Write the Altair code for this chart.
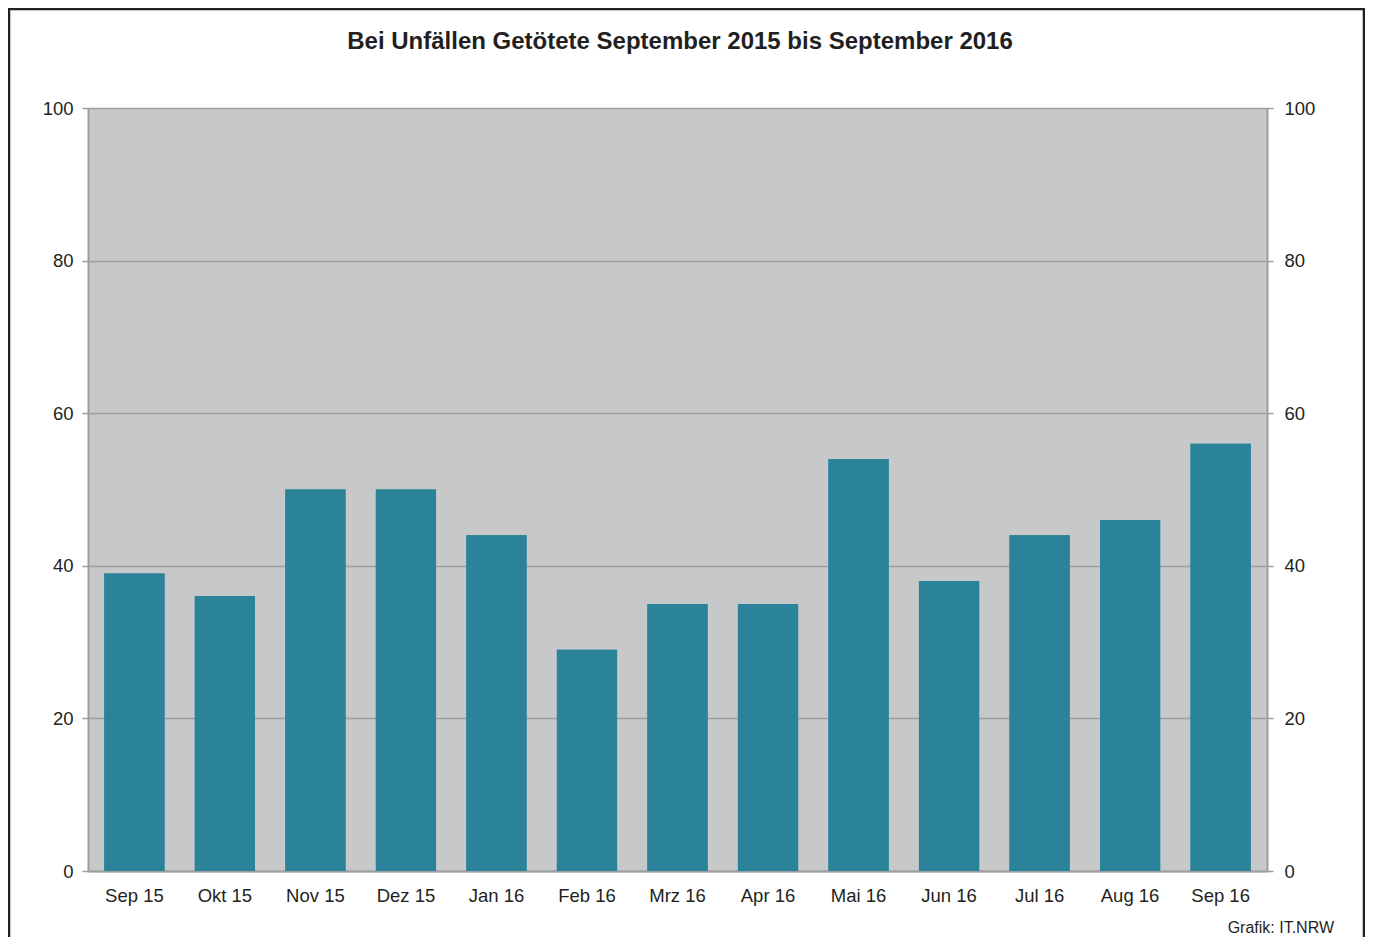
import altair as alt
import pandas as pd

months = ["Sep 15", "Okt 15", "Nov 15", "Dez 15", "Jan 16", "Feb 16", "Mrz 16",
          "Apr 16", "Mai 16", "Jun 16", "Jul 16", "Aug 16", "Sep 16"]
values = [39, 36, 50, 50, 44, 29, 35, 35, 54, 38, 44, 46, 56]
y_ticks = [0, 20, 40, 60, 80, 100]
title_text = "Bei Unfällen Getötete September 2015 bis September 2016"
credit_text = "Grafik: IT.NRW"

df = pd.DataFrame({"Monat": months, "Getötete": values})

FONT = "Liberation Sans"
TXT = "#231f20"
GRID = "#9d9ea0"
BAR = "#2a8398"
PW, PH = 1179, 763

x_enc = alt.X("Monat:N", sort=months, title=None,
              scale=alt.Scale(paddingInner=0.335, paddingOuter=0.18),
              axis=alt.Axis(labelAngle=0, labelFontSize=18.5, labelColor=TXT, labelFont=FONT,
                            ticks=False, domain=True, domainColor=GRID, domainWidth=2,
                            labelPadding=15))
y_scale = alt.Scale(domain=[0, 100], nice=False)

bars_left = alt.Chart(df).mark_bar(color=BAR).encode(
    x=x_enc,
    y=alt.Y("Getötete:Q", scale=y_scale, title=None,
            axis=alt.Axis(values=y_ticks, orient="left", grid=True, gridColor=GRID, gridWidth=1.5,
                          domainColor=GRID, domainWidth=2, tickColor=GRID, tickSize=6, tickWidth=1.5,
                          labelFontSize=18.5, labelColor=TXT, labelFont=FONT, labelPadding=9)),
)
bars_right = alt.Chart(df).mark_bar(color=BAR).encode(
    x=x_enc,
    y=alt.Y("Getötete:Q", scale=y_scale, title=None,
            axis=alt.Axis(values=y_ticks, orient="right", grid=False,
                          domainColor=GRID, domainWidth=2, tickColor=GRID, tickSize=6, tickWidth=1.5,
                          labelFontSize=18.5, labelColor=TXT, labelFont=FONT, labelPadding=11)),
)

one = pd.DataFrame({"a": [0]})

frame = alt.Chart(one).mark_rect(
    fill=None, stroke=TXT, strokeWidth=2.5, clip=False
).encode(x=alt.value(-79), x2=alt.value(PW + 97), y=alt.value(-99), y2=alt.value(PH + 90))

title = alt.Chart(one).mark_text(
    text=title_text, align="center", baseline="middle", fontSize=24, fontWeight="bold",
    font=FONT, color=TXT
).encode(x=alt.value(592), y=alt.value(-66))

credit = alt.Chart(one).mark_text(
    text=credit_text, align="right", baseline="middle", fontSize=16, font=FONT, color=TXT
).encode(x=alt.value(PW + 67), y=alt.value(PH + 57))

chart = alt.layer(bars_left, bars_right, title, credit, frame).resolve_axis(y="independent").properties(
    width=PW, height=PH,
    background="white",
    autosize=alt.AutoSizeParams(type="none"),
    padding={"left": 80, "top": 100, "right": 98, "bottom": 66},
).configure_view(fill="#c7c8ca", stroke=None)

chart.save("out.html", embed_options={"renderer": "svg", "actions": False})
